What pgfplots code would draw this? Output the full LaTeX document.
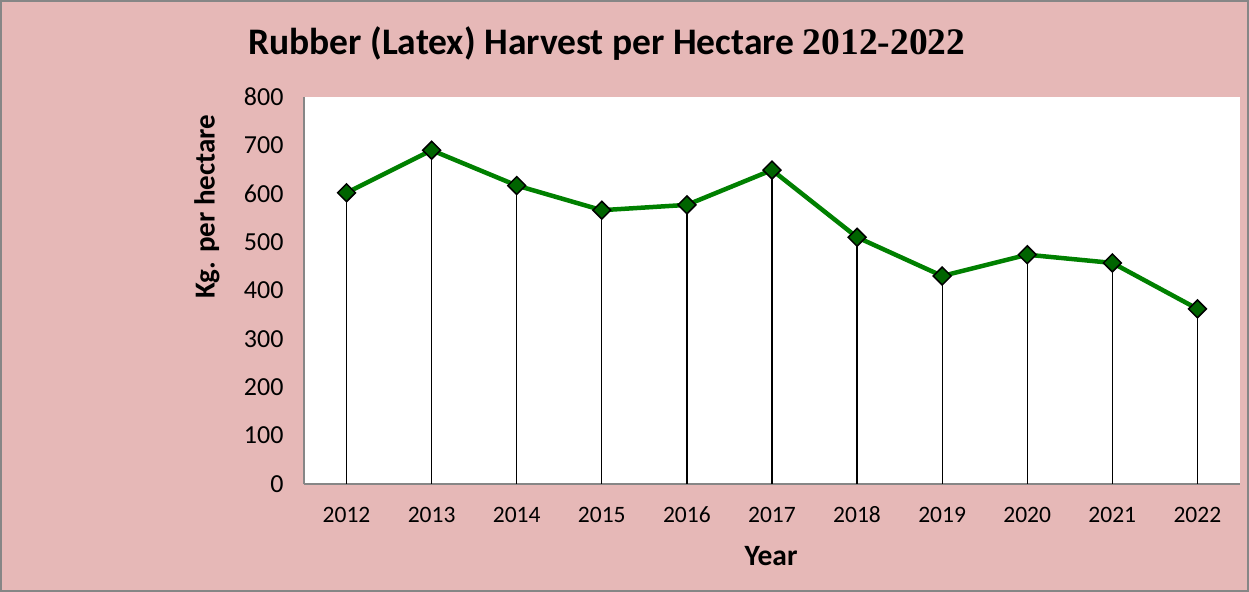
\documentclass[border=0pt]{standalone}
\usepackage{pgfplots}
\pgfplotsset{compat=1.18}
\usepackage{fontspec}
\setmainfont{Carlito}
\newfontfamily\titleserif{Liberation Serif}
\definecolor{bgpink}{HTML}{E6B8B7}
\definecolor{linegreen}{HTML}{008000}
\definecolor{markgreen}{HTML}{006400}
\definecolor{axisgray}{HTML}{868686}
\pgfplotstableread{
year value
2012 602
2013 690
2014 617
2015 566
2016 577
2017 649
2018 510
2019 430
2020 474
2021 457
2022 362
}\harvest
\begin{document}
\begin{tikzpicture}
\fill[bgpink] (0,0) rectangle (1249bp,592bp);
\draw[axisgray, line width=2bp] (1bp,1bp) rectangle (1248bp,591bp);
\useasboundingbox (0,0) rectangle (1249bp,592bp);
\begin{axis}[
  at={(304bp,108bp)}, anchor=south west,
  scale only axis, width=936bp, height=387bp,
  xmin=2011.5, xmax=2022.5, ymin=0, ymax=800,
  xtick={2012,...,2022},
  ytick={0,100,...,800},
  axis background/.style={fill=white},
  axis x line*=bottom, axis y line*=left,
  axis line style={axisgray, line width=1.5bp, -},
  major tick length=0pt,
  /pgf/number format/assume math mode=true,
  xticklabel style={/pgf/number format/1000 sep={}, font=\fontsize{23.5bp}{28bp}\selectfont, text height=0.64em, text depth=0pt, yshift=-29bp},
  yticklabel style={font=\fontsize{26bp}{30bp}\selectfont, xshift=-17bp},
  ylabel={Kg. per hectare},
  ylabel style={at={(axis description cs:-0.1036,0.716)}, anchor=center, font=\fontsize{29bp}{34bp}\selectfont\bfseries},
  xlabel={Year},
  xlabel style={at={(axis description cs:0.499,-0.186)}, anchor=center, font=\fontsize{29.5bp}{34bp}\selectfont\bfseries},
  clip=false,
]
\addplot[linegreen, line width=4.5bp, mark=square*, mark size=6.3bp,
  mark options={rotate=45, fill=markgreen, draw=black, line width=1.5bp, solid}]
  table[x=year, y=value] {\harvest};
\addplot[ycomb, black, line width=1.3bp, mark=none] table[x=year, y=value] {\harvest};
\end{axis}
\node[anchor=base west, inner sep=0pt] at (248bp,537bp)
  {\fontsize{37.5bp}{42bp}\selectfont\bfseries Rubber (Latex) Harvest per Hectare\ {\titleserif\bfseries 2012-2022}};
\end{tikzpicture}
\end{document}
